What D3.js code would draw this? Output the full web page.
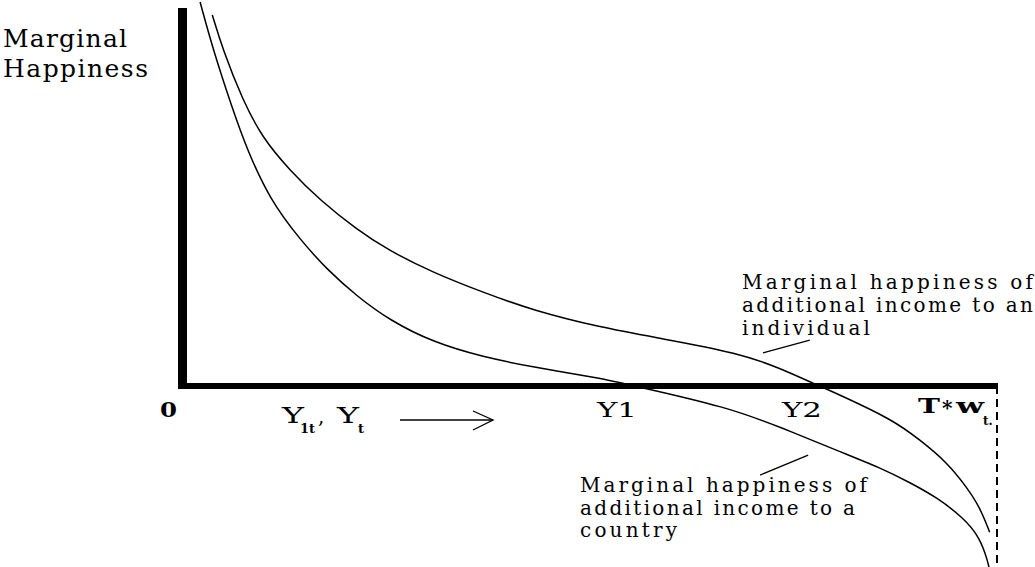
<!DOCTYPE html>
<html>
<head>
<meta charset="utf-8">
<script src="https://cdn.jsdelivr.net/npm/d3@7"></script>
<style>
  html, body { margin: 0; padding: 0; background: #fff; }
  svg { display: block; }
  text { font-family: "DejaVu Serif", "Liberation Serif", serif; fill: #000; }
</style>
</head>
<body>
<svg id="chart" width="1035" height="567"></svg>
<script>
// ---- data (x: income, 0..100 = T*w_t ; y: marginal happiness) ----
const individualX = [3.6, 4.9, 7.3, 9.7, 13.1, 16.8, 21.4, 25.1, 30.7, 36.9, 43.0, 51.2, 58.6, 68.4, 73.3, 77.6, 80.7, 87.2, 90.5, 93.9, 96.3, 97.9, 99.1];
const individualY = [37.3, 33.8, 28.8, 25.0, 21.7, 18.7, 15.7, 13.7, 11.4, 9.4, 7.6, 5.9, 4.8, 3.3, 1.8, 0.2, -0.9, -3.4, -5.4, -7.7, -10.2, -12.2, -14.7];
const countryX = [2.1, 3.7, 6.1, 7.9, 10.7, 14.4, 17.7, 21.4, 25.4, 30.7, 36.9, 43.0, 51.2, 55.5, 66.8, 73.6, 80.7, 85.6, 89.3, 92.6, 95.8, 97.9, 98.9, 99.1];
const countryY = [38.6, 33.8, 27.8, 23.7, 18.7, 14.7, 11.7, 9.0, 6.6, 4.4, 2.9, 1.9, 0.8, 0.0, -2.1, -4.2, -6.6, -8.2, -9.7, -11.2, -13.2, -15.2, -17.7, -18.6];
const yAxisLabel = ["Marginal", "Happiness"];
const individualNote = ["Marginal happiness of", "additional income to an", "individual"];
const countryNote = ["Marginal happiness of", "additional income to a", "country"];
const xMarks = ["Y1", "Y2"];

const svg = d3.select("#chart");
const x = d3.scaleLinear().domain([0, 100]).range([183, 997]);
const y = d3.scaleLinear().domain([0, 38]).range([386, 8]);

const line = d3.line().x(d => x(d[0])).y(d => y(d[1])).curve(d3.curveBasis);

// dashed limit line at T*w_t
svg.append("line")
  .attr("x1", x(100)).attr("x2", x(100))
  .attr("y1", y(0)).attr("y2", 567)
  .attr("stroke", "#000").attr("stroke-width", 2)
  .attr("stroke-dasharray", "8,5");

// curves
svg.append("path").datum(individualX.map((v, i) => [v, individualY[i]]))
  .attr("d", line).attr("fill", "none").attr("stroke", "#000").attr("stroke-width", 1.5);
svg.append("path").datum(countryX.map((v, i) => [v, countryY[i]]))
  .attr("d", line).attr("fill", "none").attr("stroke", "#000").attr("stroke-width", 1.5);

// axes (thick)
svg.append("line")
  .attr("x1", x(0) - 0.5).attr("x2", x(0) - 0.5)
  .attr("y1", y(38)).attr("y2", y(0) + 3)
  .attr("stroke", "#000").attr("stroke-width", 9);
svg.append("line")
  .attr("x1", x(0) - 5).attr("x2", x(100) + 1)
  .attr("y1", y(0)).attr("y2", y(0))
  .attr("stroke", "#000").attr("stroke-width", 6);

// y-axis label
const lw = [124, 145];
yAxisLabel.forEach((t, i) => {
  svg.append("text").attr("x", 3).attr("y", 47 + i * 30)
    .attr("font-size", 25).attr("textLength", lw[i]).attr("lengthAdjust", "spacing").text(t);
});

// origin
svg.append("text").attr("x", 160).attr("y", 417).attr("font-size", 21).attr("font-weight", "bold")
  .attr("textLength", 17).attr("lengthAdjust", "spacingAndGlyphs").text("0");

// Y1t, Yt ->
svg.append("text").attr("x", 282).attr("y", 423).attr("font-size", 22)
  .attr("textLength", 22).attr("lengthAdjust", "spacingAndGlyphs").text("Y");
svg.append("text").attr("x", 300).attr("y", 433).attr("font-size", 13).attr("font-weight", "bold").text("1t");
svg.append("text").attr("x", 318).attr("y", 423).attr("font-size", 20).text(",");
svg.append("text").attr("x", 337).attr("y", 423).attr("font-size", 22)
  .attr("textLength", 22).attr("lengthAdjust", "spacingAndGlyphs").text("Y");
svg.append("text").attr("x", 358).attr("y", 433).attr("font-size", 13).attr("font-weight", "bold").text("t");
svg.append("line").attr("x1", 400).attr("x2", 493).attr("y1", 420).attr("y2", 420)
  .attr("stroke", "#000").attr("stroke-width", 1.3);
svg.append("path").attr("d", "M473,411 L493,420 L473,430")
  .attr("fill", "none").attr("stroke", "#000").attr("stroke-width", 1.3);

// Y1, Y2 marks
const markX = [597, 782];
xMarks.forEach((t, i) => {
  svg.append("text").attr("x", markX[i]).attr("y", 417).attr("font-size", 21)
    .attr("textLength", 40).attr("lengthAdjust", "spacingAndGlyphs").text(t);
});

// T*w_t
svg.append("text").attr("x", 918).attr("y", 413).attr("font-size", 21).attr("font-weight", "bold")
  .attr("textLength", 22).attr("lengthAdjust", "spacingAndGlyphs").text("T");
svg.append("text").attr("x", 942).attr("y", 415).attr("font-size", 20).attr("font-weight", "bold").text("*");
svg.append("text").attr("x", 956).attr("y", 413).attr("font-size", 21).attr("font-weight", "bold")
  .attr("textLength", 28).attr("lengthAdjust", "spacingAndGlyphs").text("w");
svg.append("text").attr("x", 983).attr("y", 425).attr("font-size", 12).attr("font-weight", "bold").text("t.");

// annotations
const indW = [291, 291, 128];
individualNote.forEach((t, i) => {
  svg.append("text").attr("x", 742).attr("y", 289 + i * 23).attr("font-size", 20)
    .attr("textLength", indW[i]).attr("lengthAdjust", "spacing").text(t);
});
const cW = [287, 275, 97];
countryNote.forEach((t, i) => {
  svg.append("text").attr("x", 580).attr("y", 492 + i * 22.7).attr("font-size", 20)
    .attr("textLength", cW[i]).attr("lengthAdjust", "spacing").text(t);
});

// leader lines
svg.append("line").attr("x1", x(71.25)).attr("y1", y(3.32)).attr("x2", x(77.0)).attr("y2", y(4.62))
  .attr("stroke", "#000").attr("stroke-width", 1.3);
svg.append("line").attr("x1", x(70.9)).attr("y1", y(-8.95)).attr("x2", x(76.8)).attr("y2", y(-6.94))
  .attr("stroke", "#000").attr("stroke-width", 1.3);
</script>
</body>
</html>
